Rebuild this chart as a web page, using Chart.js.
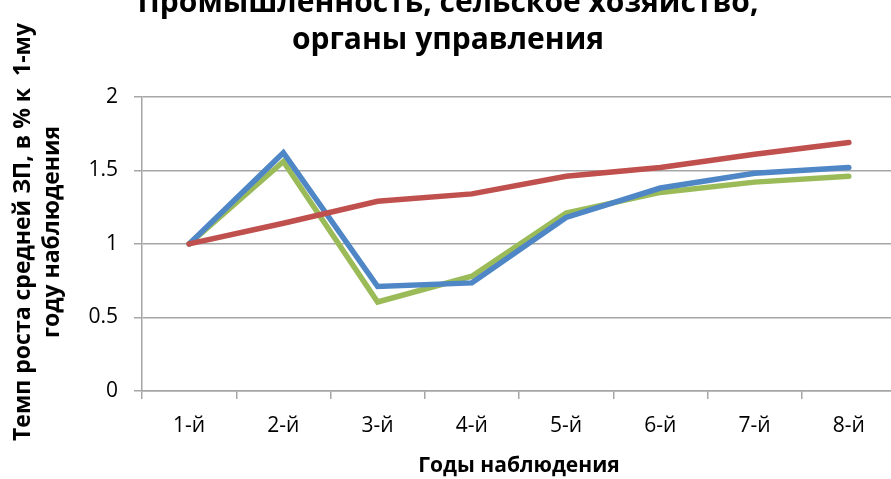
<!DOCTYPE html>
<html>
<head>
<meta charset="utf-8">
<script src="https://cdn.jsdelivr.net/npm/chart.js@4"></script>
<style>
  html, body { margin: 0; padding: 0; background: #fff; overflow: hidden; }
  #wrap { position: absolute; left: 0; top: -22px; width: 896px; height: 501px; }
</style>
</head>
<body>
<div id="wrap"><canvas id="growthChart" width="896" height="501"></canvas></div>
<script>
const years = ["1-й", "2-й", "3-й", "4-й", "5-й", "6-й", "7-й", "8-й"];
const seriesBlue = [1.0, 1.62, 0.71, 0.735, 1.18, 1.38, 1.48, 1.52];
const seriesRed = [1.0, 1.14, 1.29, 1.34, 1.46, 1.52, 1.61, 1.69];
const seriesGreen = [1.0, 1.56, 0.605, 0.78, 1.21, 1.35, 1.42, 1.46];
const yTicks = [0, 0.5, 1, 1.5, 2];

const FONT = "'Open Sans', sans-serif";

const line = (data, color) => ({
  data,
  borderColor: color,
  borderWidth: 5.5,
  pointRadius: 0,
  tension: 0,
  borderCapStyle: "round",
  borderJoinStyle: "miter",
});

new Chart(document.getElementById("growthChart").getContext("2d"), {
  type: "line",
  data: {
    labels: years,
    datasets: [
      line(seriesRed, "#c0504d"),
      line(seriesBlue, "#4f86c6"),
      line(seriesGreen, "#9bbb59"),
    ],
  },
  options: {
    responsive: false,
    animation: false,
    layout: { padding: 0 },
    plugins: {
      legend: { display: false },
      tooltip: { enabled: false },
      title: {
        display: true,
        text: ["Промышленность, сельское хозяйство,", "органы управления"],
        color: "#000",
        font: { family: FONT, size: 30, weight: "bold", lineHeight: 1.23 },
        padding: { top: 7, bottom: 38 },
      },
    },
    scales: {
      x: {
        offset: true,
        afterFit: (s) => { s.height = 88; },
        grid: { offset: true, drawOnChartArea: false, tickLength: 8, color: "#a6a6a6", lineWidth: 1.5 },
        border: { color: "#a6a6a6", width: 1.5 },
        ticks: { color: "#000", font: { family: FONT, size: 21 }, padding: 14 },
        title: {
          display: true,
          text: "Годы наблюдения",
          color: "#000",
          font: { family: FONT, size: 21, weight: "bold" },
          padding: { top: 8, bottom: 0 },
        },
      },
      y: {
        min: 0,
        max: 2,
        afterFit: (s) => { s.width = 142; },
        afterBuildTicks: (s) => { s.ticks = yTicks.map((v) => ({ value: v })); },
        grid: { tickLength: 8, color: "#a6a6a6", lineWidth: 1.5 },
        border: { color: "#a6a6a6", width: 1.5 },
        ticks: {
          color: "#000",
          font: { family: FONT, size: 21 },
          padding: 16,
          callback: (v) => String(v),
        },
        title: {
          display: true,
          // leading spaces nudge the rotated title upward, as in the source
          text: ["    Темп роста средней ЗП, в % к  1-му", "    году наблюдения"],
          color: "#000",
          font: { family: FONT, size: 23, weight: "bold", lineHeight: 1.26 },
          padding: { top: 9, bottom: 0 },
        },
      },
    },
  },
});
</script>
</body>
</html>
